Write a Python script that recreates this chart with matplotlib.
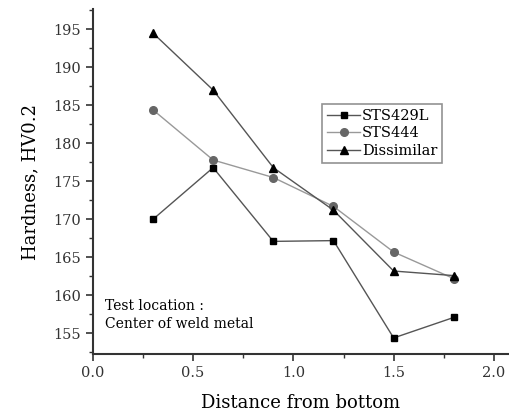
import matplotlib
matplotlib.use('Agg')
import matplotlib.pyplot as plt
from matplotlib.ticker import MultipleLocator

plt.rcParams['font.family'] = ['DejaVu Serif']

distance = [0.3, 0.6, 0.9, 1.2, 1.5, 1.8]
sts429l = [170.0, 176.8, 167.1, 167.2, 154.4, 157.1]
sts444 = [184.4, 177.8, 175.5, 171.7, 165.7, 162.2]
dissimilar = [194.5, 187.0, 176.8, 171.2, 163.2, 162.6]

fig = plt.figure(figsize=(5.1, 4.12), dpi=100)
ax = fig.add_axes([0.182, 0.141, 0.814, 0.836])

ax.plot(distance, sts429l, color='#555555', lw=1.0, marker='s', ms=5,
        mfc='black', mec='black', label='STS429L')
ax.plot(distance, sts444, color='#999999', lw=1.0, marker='o', ms=5.5,
        mfc='#666666', mec='#666666', label='STS444')
ax.plot(distance, dissimilar, color='#555555', lw=1.0, marker='^', ms=6,
        mfc='black', mec='black', label='Dissimilar')

ax.set_xlim(0, 2.07)
ax.set_ylim(152.3, 197.6)
ax.xaxis.set_major_locator(MultipleLocator(0.5))
ax.xaxis.set_minor_locator(MultipleLocator(0.25))
ax.yaxis.set_major_locator(MultipleLocator(5))
ax.yaxis.set_minor_locator(MultipleLocator(2.5))
ax.xaxis.set_major_formatter(plt.FormatStrFormatter('%.1f'))

for s in ['top', 'right']:
    ax.spines[s].set_visible(False)
for s in ['left', 'bottom']:
    ax.spines[s].set_linewidth(1.5)
    ax.spines[s].set_color('#333333')
ax.tick_params(which='major', direction='out', length=5, width=1.2,
               labelsize=10.5, colors='#333333')
ax.tick_params(which='minor', direction='out', length=3, width=1.0,
               colors='#333333')

ax.set_xlabel('Distance from bottom', fontsize=13, labelpad=10)
ax.set_ylabel('Hardness, HV0.2', fontsize=13, labelpad=10)

ax.text(0.06, 157.4, 'Test location :\nCenter of weld metal', fontsize=10,
        linespacing=1.3, va='center', ha='left')

leg = ax.legend(loc='upper left', bbox_to_anchor=(0.553, 0.727), fontsize=10.5,
                frameon=True, fancybox=False, edgecolor='#777777',
                handlelength=2.2, handletextpad=0.15, borderpad=0.35,
                labelspacing=0.25, borderaxespad=0)
leg.get_frame().set_linewidth(1.2)

fig.savefig('out.png', dpi=100)
